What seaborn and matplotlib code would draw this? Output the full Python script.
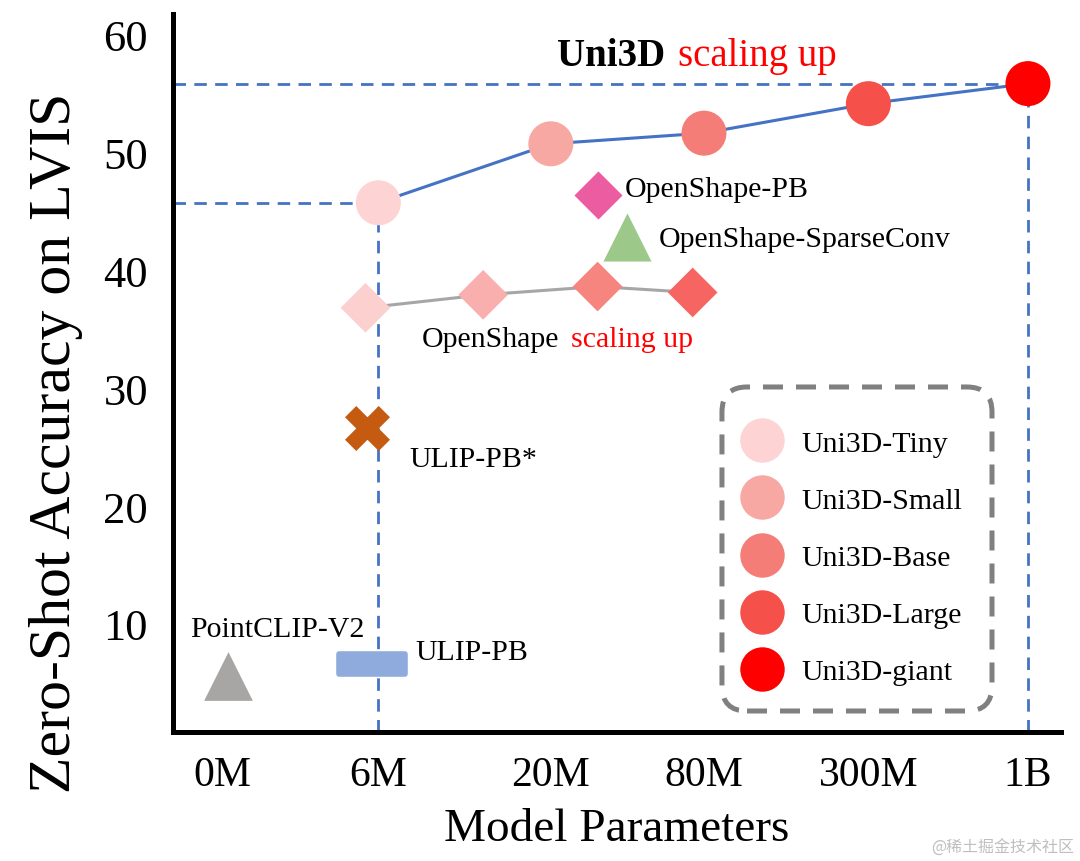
import matplotlib
matplotlib.use("Agg")
import matplotlib.pyplot as plt
import seaborn as sns
import pandas as pd
import numpy as np
from matplotlib.lines import Line2D
from matplotlib.path import Path
from matplotlib.markers import MarkerStyle
from matplotlib.patches import FancyBboxPatch

# ---------------- data ----------------
size_labels = ["0M", "6M", "20M", "80M", "300M", "1B"]
size_pos = [0.0, 0.97, 2.04, 2.99, 4.01, 5.0]

uni3d_models = ["Uni3D-Tiny", "Uni3D-Small", "Uni3D-Base", "Uni3D-Large", "Uni3D-giant"]
uni3d_x = [0.97, 2.04, 2.99, 4.01, 5.0]
uni3d_acc = [45.7, 50.7, 51.6, 54.1, 55.8]
uni3d_colors = ["#FDD3D3", "#F8A8A3", "#F47E77", "#F5504A", "#FF0000"]

openshape_x = [0.89, 1.62, 2.33, 2.92]
openshape_acc = [36.8, 37.9, 38.6, 38.1]
openshape_colors = ["#FBD0CF", "#F9AFAD", "#F6847F", "#F76563"]

other_names = ["OpenShape-PB", "OpenShape-SparseConv", "ULIP-PB*", "ULIP-PB", "PointCLIP-V2"]
other_x = [2.33, 2.51, 0.90, 0.93, 0.04]
other_acc = [46.4, 42.8, 26.6, 6.6, 5.6]

# ---------------- style ----------------
sns.set_theme(style="white")
plt.rcParams["font.family"] = ["Liberation Serif", "DejaVu Serif"]
for k in ["text.color", "axes.labelcolor", "xtick.color", "ytick.color"]:
    plt.rcParams[k] = "black"

BLUE = "#4472C4"

fig = plt.figure(figsize=(10.8, 8.62), dpi=100)
ax = fig.add_axes([0.1602, 0.1497, 0.8222, 0.8329])

# reference dashed guides
dash = (0, (4.5, 3))
x_left = -0.304
ax.plot([x_left, uni3d_x[-1]], [uni3d_acc[-1]] * 2, color=BLUE, lw=2.0, ls=dash, zorder=1)
ax.plot([x_left, uni3d_x[0]], [uni3d_acc[0]] * 2, color=BLUE, lw=2.0, ls=dash, zorder=1)
ax.plot([uni3d_x[0]] * 2, [0.85, uni3d_acc[0]], color=BLUE, lw=2.0, ls=dash, zorder=1)
ax.plot([uni3d_x[-1]] * 2, [0.85, uni3d_acc[-1]], color=BLUE, lw=2.0, ls=dash, zorder=1)

# Uni3D line + points
df_u = pd.DataFrame({"x": uni3d_x, "acc": uni3d_acc, "model": uni3d_models})
sns.lineplot(data=df_u, x="x", y="acc", sort=False, color=BLUE, lw=2.2, ax=ax, zorder=2)
sns.scatterplot(data=df_u, x="x", y="acc", hue="model", palette=uni3d_colors,
                s=1050, linewidth=0, ax=ax, zorder=3, legend=False)

# OpenShape scaling
df_o = pd.DataFrame({"x": openshape_x, "acc": openshape_acc, "k": range(len(openshape_x))})
sns.lineplot(data=df_o, x="x", y="acc", sort=False, color="#A6A6A6", lw=2.2, ax=ax, zorder=2)
sns.scatterplot(data=df_o, x="x", y="acc", hue="k", palette=openshape_colors,
                marker="D", s=640, linewidth=0, ax=ax, zorder=3, legend=False)

# other baselines
df_b = pd.DataFrame({"x": other_x, "acc": other_acc, "name": other_names})
sns.scatterplot(data=df_b[df_b.name == "OpenShape-PB"], x="x", y="acc", marker="D",
                color="#EC5CA0", s=600, linewidth=0, ax=ax, zorder=3)
sns.scatterplot(data=df_b[df_b.name == "OpenShape-SparseConv"], x="x", y="acc", marker="^",
                color="#9CC98A", s=1200, linewidth=0, ax=ax, zorder=3)
sns.scatterplot(data=df_b[df_b.name == "PointCLIP-V2"], x="x", y="acc", marker="^",
                color="#A8A5A5", s=1230, linewidth=0, ax=ax, zorder=3)
sns.scatterplot(data=df_b[df_b.name == "ULIP-PB*"], x="x", y="acc", marker="X",
                color="#C55A11", s=1050, linewidth=0, ax=ax, zorder=3)
rect = Path([(-1, -0.3), (1, -0.3), (1, 0.3), (-1, 0.3), (-1, -0.3)],
            [Path.MOVETO, Path.LINETO, Path.LINETO, Path.LINETO, Path.CLOSEPOLY])
sns.scatterplot(data=df_b[df_b.name == "ULIP-PB"], x="x", y="acc",
                marker=MarkerStyle(rect, joinstyle="round"),
                color="#8FAADC", edgecolor="#8FAADC", s=2300, linewidth=4, ax=ax, zorder=3)

# annotations
fs = 21.5
ax.text(2.08, 57.4, "Uni3D", fontsize=28, fontweight="bold", color="black")
ax.text(2.83, 57.4, "scaling up", fontsize=28, color="#FF0000")
ax.text(2.50, 46.27, "OpenShape-PB", fontsize=fs)
ax.text(2.71, 42.03, "OpenShape-SparseConv", fontsize=fs)
ax.text(1.24, 33.56, "OpenShape", fontsize=fs)
ax.text(2.165, 33.56, "scaling up", fontsize=fs, color="#FF0000")
ax.text(1.16, 23.4, "ULIP-PB*", fontsize=fs)
ax.text(1.20, 7.03, "ULIP-PB", fontsize=fs)
ax.text(-0.20, 8.98, "PointCLIP-V2", fontsize=fs)

# legend (frameless) + dashed rounded box
handles = [Line2D([], [], marker="o", ls="none", markersize=32, markerfacecolor=c,
                  markeredgecolor="none") for c in uni3d_colors]
leg = ax.legend(handles, uni3d_models, loc="upper left", bbox_to_anchor=(0.6236, 0.4589),
                fontsize=21.5, frameon=False, labelspacing=1.01,
                handletextpad=1.09, borderpad=0.92, handlelength=0.5, borderaxespad=0)
box = FancyBboxPatch((0.6182, 0.0292), 0.3041, 0.4513, transform=ax.transAxes,
                     boxstyle="round,pad=0,rounding_size=0.0282", mutation_aspect=1.237,
                     facecolor="none", edgecolor="#808080", linewidth=3.6,
                     linestyle=(0, (4, 2.6)), zorder=4, clip_on=False)
ax.add_patch(box)

# axes
ax.set_xlim(x_left, 5.205)
ax.set_ylim(0.85, 61.7)
ax.set_xticks(size_pos)
ax.set_xticklabels(size_labels)
ax.set_yticks([10, 20, 30, 40, 50, 60])
ax.tick_params(axis="x", length=0, pad=17, labelsize=30)
ax.tick_params(axis="y", length=0, pad=18, labelsize=32)
ax.set_xlabel("Model Parameters", fontsize=34, labelpad=10)
ax.set_ylabel("Zero-Shot Accuracy on LVIS", fontsize=43)
ax.yaxis.set_label_coords(-0.101, 0.404)
for s in ["top", "right"]:
    ax.spines[s].set_visible(False)
for s in ["left", "bottom"]:
    ax.spines[s].set_color("black")
    ax.spines[s].set_linewidth(3.6)

fig.text(0.995, 0.016, "@稀土掘金技术社区", ha="right", va="center", fontsize=11.5,
         color="#BFBFBF", family=["Noto Sans CJK SC", "DejaVu Sans"])

fig.savefig("out.png", dpi=100)
